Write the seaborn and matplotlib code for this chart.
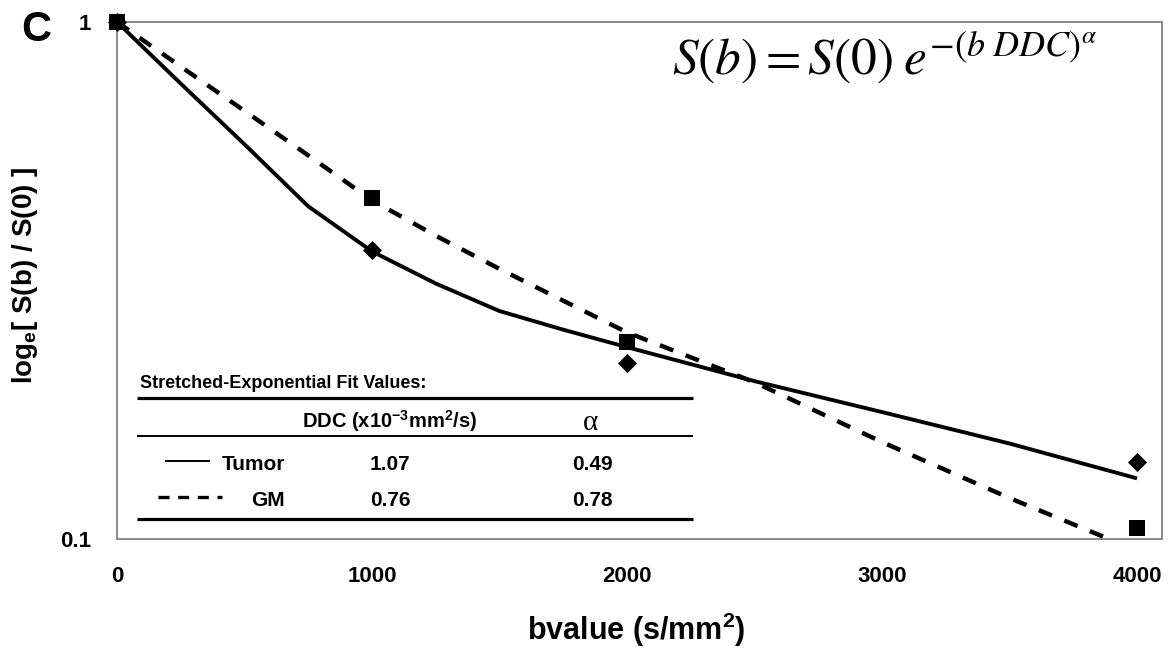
import numpy as np
import pandas as pd
import matplotlib
matplotlib.use("Agg")
import matplotlib.pyplot as plt
from matplotlib.ticker import FixedLocator, FixedFormatter, NullLocator
import seaborn as sns

# ---------------- data ----------------
b_points = [0, 1000, 2000, 4000]
tumor_points = [1.0, 0.362, 0.219, 0.141]
gm_points = [1.0, 0.457, 0.240, 0.105]

b_fit = [0, 250, 500, 750, 1000, 1250, 1500, 1750, 2000, 2500, 3000, 3500, 4000]
tumor_fit = [1.0, 0.76, 0.58, 0.44, 0.36, 0.312, 0.276, 0.254, 0.235, 0.202, 0.176, 0.153, 0.131]
gm_fit = [1.0, 0.82, 0.673, 0.552, 0.452, 0.386, 0.333, 0.289, 0.251, 0.201, 0.154, 0.120, 0.095]

x_ticks = [0, 1000, 2000, 3000, 4000]
x_tick_labels = ["0", "1000", "2000", "3000", "4000"]
y_ticks = [0.1, 1]
y_tick_labels = ["0.1", "1"]

table_title = "Stretched-Exponential Fit Values:"
table_rows = ["Tumor", "GM"]
ddc_values = ["1.07", "0.76"]
alpha_values = ["0.49", "0.78"]

# ---------------- style ----------------
sns.set_style("white")
plt.rcParams["font.family"] = ["Liberation Sans", "DejaVu Sans"]
plt.rcParams["text.color"] = "black"
plt.rcParams["axes.labelcolor"] = "black"
plt.rcParams["mathtext.fontset"] = "custom"
plt.rcParams["mathtext.rm"] = "Liberation Sans:bold"
plt.rcParams["mathtext.it"] = "Liberation Sans:bold"
plt.rcParams["mathtext.bf"] = "Liberation Sans:bold"

W, H = 1168, 653
fig = plt.figure(figsize=(W / 100, H / 100), dpi=100)
L, R, T, B = 117, 1162, 22, 539
ax = fig.add_axes([L / W, 1 - B / H, (R - L) / W, (B - T) / H])

fit_df = pd.DataFrame({"b": b_fit, "tumor": tumor_fit, "gm": gm_fit})
pts_df = pd.DataFrame({"b": b_points, "tumor": tumor_points, "gm": gm_points})

sns.lineplot(data=fit_df, x="b", y="tumor", ax=ax, color="black",
             linewidth=2.8, solid_capstyle="butt", zorder=3)
sns.lineplot(data=fit_df, x="b", y="gm", ax=ax, color="black",
             linewidth=3.2, linestyle=(0, (3.2, 3.0)), dash_capstyle="butt", zorder=3)

sns.scatterplot(data=pts_df, x="b", y="tumor", ax=ax, marker="D", s=95,
                color="black", linewidth=0, clip_on=False, zorder=4)
sns.scatterplot(data=pts_df, x="b", y="gm", ax=ax, marker="s", s=130,
                color="black", linewidth=0, clip_on=False, zorder=5)

ax.set_yscale("log")
ax.set_xlim(0, 4098)
ax.set_ylim(0.1, 1)
ax.xaxis.set_major_locator(FixedLocator(x_ticks))
ax.xaxis.set_major_formatter(FixedFormatter(x_tick_labels))
ax.yaxis.set_major_locator(FixedLocator(y_ticks))
ax.yaxis.set_major_formatter(FixedFormatter(y_tick_labels))
ax.yaxis.set_minor_locator(NullLocator())
ax.xaxis.set_minor_locator(NullLocator())

for sp in ax.spines.values():
    sp.set_visible(True)
    sp.set_color("#8a8a8a")
    sp.set_linewidth(1.4)
ax.tick_params(axis="both", which="major", direction="out", length=5.5,
               width=1.2, color="#8a8a8a", labelsize=16, labelcolor="black")
ax.tick_params(axis="x", pad=14)
ax.tick_params(axis="y", pad=13)
for lab in ax.get_xticklabels() + ax.get_yticklabels():
    lab.set_fontweight("bold")

ax.set_xlabel(r"bvalue (s/mm$^{2}$)", fontsize=22, fontweight="bold",
              va="center", color="black")
ax.xaxis.set_label_coords(0.497, -0.176)
ax.set_ylabel(r"log$_{\mathregular{e}}$[ S(b) / S(0) ]", fontsize=20,
              fontweight="bold", va="center", color="black")
ax.yaxis.set_label_coords(-0.088, 0.51)

# panel letter
fig.text(36 / W, 1 - 30 / H, "C", fontsize=30, fontweight="bold",
         ha="center", va="center", color="black")

# formula
ax.text(0.734, 0.8975, r"$S(b) = S(0)\;e^{-(b\ DDC)^{\alpha}}$",
        transform=ax.transAxes, fontsize=37, ha="center", va="baseline",
        math_fontfamily="stix", fontweight="normal", color="black")

# ---------------- fit table ----------------
def fx(px):
    return (px - L) / (R - L)

def fy(py):
    return (B - py) / (B - T)

tr = ax.transAxes
ax.text(fx(140), fy(383), table_title, transform=tr, fontsize=13,
        fontweight="bold", ha="left", va="center")
ax.plot([fx(137), fx(693)], [fy(398), fy(398)], transform=tr, color="black",
        lw=2.3, solid_capstyle="butt")
ax.text(fx(390), fy(421), r"DDC (x10$^{-3}$mm$^{2}$/s)", transform=tr,
        fontsize=14.5, fontweight="bold", ha="center", va="center")
ax.text(fx(590), fy(423), "α", transform=tr, fontsize=21,
        ha="center", va="center", family=["Liberation Serif", "DejaVu Serif"],
        fontweight="normal")
ax.plot([fx(137), fx(693)], [fy(436), fy(436)], transform=tr, color="black",
        lw=1.4, solid_capstyle="butt")

row_y = [465, 501]
line_styles = ["-", (0, (3.3, 2.6))]
line_x = [(165, 210), (158, 222)]
for i, name in enumerate(table_rows):
    y = row_y[i]
    ax.plot([fx(line_x[i][0]), fx(line_x[i][1])], [fy(y - 4), fy(y - 4)],
            transform=tr, color="black", lw=1.4 if i == 0 else 2.4,
            linestyle=line_styles[i], solid_capstyle="butt", dash_capstyle="butt")
    ax.text(fx(285), fy(y), name, transform=tr, fontsize=15,
            fontweight="bold", ha="right", va="center")
    ax.text(fx(390), fy(y), ddc_values[i], transform=tr, fontsize=15,
            fontweight="bold", ha="center", va="center")
    ax.text(fx(592), fy(y), alpha_values[i], transform=tr, fontsize=15,
            fontweight="bold", ha="center", va="center")
ax.plot([fx(137), fx(693)], [fy(519), fy(519)], transform=tr, color="black",
        lw=2.3, solid_capstyle="butt")

fig.savefig("out.png", dpi=100, facecolor="white")
